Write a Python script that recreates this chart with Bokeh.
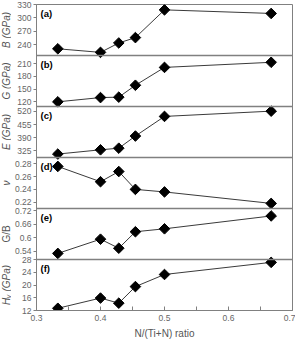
import math
from bokeh.plotting import figure
from bokeh.layouts import row
from bokeh.models import Range1d, FixedTicker, Label, Span
from bokeh.embed import file_html
from bokeh.resources import INLINE

# ---- data ----
x_ratio = [1/3, 0.4, 3/7, 5/11, 0.5, 2/3]
B_gpa = [231, 223, 244, 256, 318, 310]
G_gpa = [120, 130, 131, 159, 201, 213]
E_gpa = [309, 330, 338, 398, 495, 521]
nu_ratio = [0.276, 0.252, 0.268, 0.240, 0.236, 0.218]
GB_ratio = [0.530, 0.593, 0.553, 0.626, 0.639, 0.696]
Hv_gpa = [12.7, 15.9, 14.3, 19.5, 23.3, 27.1]

panel_tags = ["(a)", "(b)", "(c)", "(d)", "(e)", "(f)"]
y_titles = ["B (GPa)", "G (GPa)", "E (GPa)", "ν", "G/B", "Hᵥ (GPa)"]
y_styles = ["italic", "italic", "italic", "italic", "normal", "italic"]
series = [B_gpa, G_gpa, E_gpa, nu_ratio, GB_ratio, Hv_gpa]
y_limits = [(216, 330), (109, 229), (292, 544), (0.21, 0.29), (0.503, 0.729), (12, 28)]
y_ticks = [[240, 270, 300, 330], [120, 150, 180, 210], [325, 390, 455, 520],
           [0.22, 0.24, 0.26, 0.28], [0.54, 0.6, 0.66, 0.72], [12, 16, 20, 24, 28]]
x_ticks = [0.3, 0.4, 0.5, 0.6, 0.7]
x_minor = [0.35, 0.45, 0.55, 0.65]
x_title = "N/(Ti+N) ratio"

FONT = "Liberation Sans"
GRAY = "#808080"
n = len(series)
FRAME_H = 306

# narrow strip holding the rotated y titles
tf = figure(frame_width=11, frame_height=FRAME_H,
            x_range=Range1d(0, 1), y_range=Range1d(0, n),
            output_backend="svg", toolbar_location=None,
            x_axis_location=None, y_axis_location=None,
            min_border_left=0, min_border_right=0, min_border_top=4, min_border_bottom=0)
tf.grid.visible = False
tf.outline_line_color = None

p = figure(frame_width=256, frame_height=FRAME_H,
           x_range=Range1d(0.3, 0.7), y_range=Range1d(0, n),
           output_backend="svg", toolbar_location=None,
           min_border_left=22, min_border_right=3, min_border_top=4, min_border_bottom=0)
p.grid.visible = False
p.outline_line_color = GRAY
p.outline_line_width = 1

tick_pos = []
tick_text = {}
for i, (vals, (lo, hi), ticks) in enumerate(zip(series, y_limits, y_ticks)):
    band = n - 1 - i
    span = hi - lo
    start = lo - band * span
    name = f"panel{i}"
    p.extra_y_ranges[name] = Range1d(start, start + n * span)
    p.line(x_ratio, vals, y_range_name=name, line_color="#3a3a3a", line_width=1)
    p.scatter(x_ratio, vals, y_range_name=name, marker="square", angle=math.pi / 4,
              size=7.5, fill_color="black", line_color="black")
    for t in ticks:
        pos = band + (t - lo) / span
        tick_pos.append(pos)
        tick_text[pos] = f"{t:g}"
    p.add_layout(Label(x=0.3, y=band + 1, x_offset=4, y_offset=-3, text=panel_tags[i],
                       text_baseline="top", text_align="left", text_font=FONT,
                       text_font_style="bold", text_font_size="9.5px", text_color="black"))
    tf.add_layout(Label(x=0.55, y=band + 0.5, text=y_titles[i], angle=math.pi / 2,
                        text_align="center", text_baseline="middle", text_font=FONT,
                        text_font_style=y_styles[i], text_font_size="10px",
                        text_color="#555555"))
    if band > 0:
        p.add_layout(Span(location=band, dimension="width", line_color=GRAY, line_width=1.5))

yax = p.yaxis[0]
yax.ticker = FixedTicker(ticks=tick_pos)
yax.major_label_overrides = tick_text
yax.minor_tick_line_color = None
yax.major_tick_out = 3
yax.major_tick_in = 0
yax.major_tick_line_color = GRAY
yax.axis_line_color = GRAY
yax.major_label_standoff = 2
yax.major_label_text_font = FONT
yax.major_label_text_font_size = "8.5px"
yax.major_label_text_color = "#666666"

xax = p.xaxis[0]
xax.ticker = FixedTicker(ticks=x_ticks, minor_ticks=x_minor)
xax.major_tick_in = 4
xax.major_tick_out = 0
xax.minor_tick_in = 4
xax.minor_tick_out = 0
xax.major_tick_line_color = GRAY
xax.minor_tick_line_color = GRAY
xax.axis_line_color = GRAY
xax.major_label_standoff = 4
xax.major_label_text_font = FONT
xax.major_label_text_font_size = "8.5px"
xax.major_label_text_color = "#666666"
xax.axis_label = x_title
xax.axis_label_standoff = 4
xax.axis_label_text_font = FONT
xax.axis_label_text_font_style = "normal"
xax.axis_label_text_font_size = "10px"
xax.axis_label_text_color = "#555555"

layout = row(tf, p, spacing=0)
open("out.html", "w").write(file_html(layout, INLINE))
